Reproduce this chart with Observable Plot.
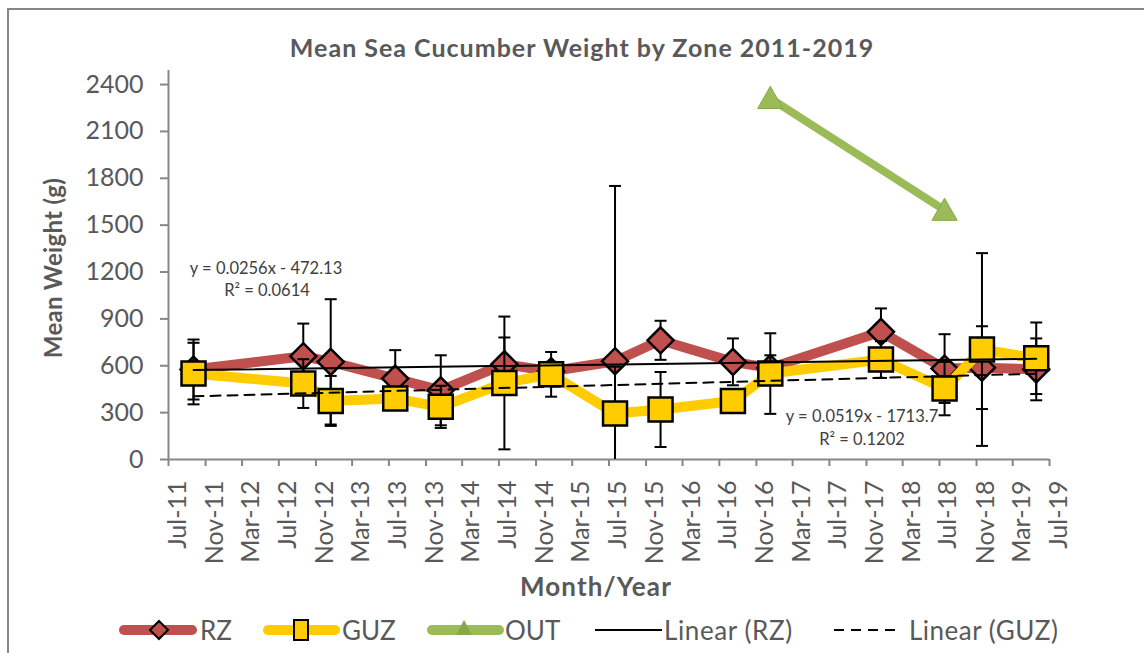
<!DOCTYPE html>
<html>
<head>
<meta charset="utf-8">
<script src="https://cdn.jsdelivr.net/npm/d3@7"></script>
<script src="https://cdn.jsdelivr.net/npm/@observablehq/plot@0.6"></script>
<style>
  html, body { margin: 0; padding: 0; background: #fff; }
  #wrap { position: relative; width: 1144px; height: 653px; overflow: hidden; font-family: Lato, "Open Sans", sans-serif; color: #595959; }
  #border { position: absolute; left: 7px; top: 8px; width: 1170px; height: 720px; border: 2px solid #878787; box-sizing: border-box; }
  #chart { position: absolute; left: 0; top: 0; }
  .lbl { position: absolute; line-height: 1; white-space: nowrap; }
  .ctr { transform: translate(-50%, -50%); }
  .bold { font-weight: bold; }
  .trend { font-size: 16.5px; color: #404040; }
  .leg { position: absolute; line-height: 1; white-space: nowrap; font-size: 26px; transform: translateY(-50%); }
  #legsvg { position: absolute; left: 0; top: 610px; }
</style>
</head>
<body>
<div id="wrap">
  <div id="border"></div>
  <div id="chart"></div>
</div>
<script>
// ---------------- data ----------------
const sampleDates = ["2011-09-22","2012-09-20","2012-12-20","2013-07-22","2013-12-20","2014-07-19","2014-12-21","2015-07-21","2015-12-19","2016-08-15","2016-12-17","2017-12-19","2018-07-18","2018-11-19","2019-05-18"];
const rzMean  = [576, 661, 625, 518, 443, 610, 565, 629, 763, 625, 585, 817, 582, 588, 577];
const rzErr   = [192, 209, 401, 182, 224, 171,  60, 1122, 125, 150,  82, 150, 220, 265, 198];
const guzMean = [550, 486, 375, 390, 337, 490, 545, 294, 320, 375, 550, 640, 454, 704, 648];
const guzErr  = [197, 156, 160,  60, 135, 425, 143, 300, 240,  60, 258, 118, 171, 617, 229];
const outDates = ["2016-12-17","2018-07-18"];
const outMean  = [2312, 1596];
const trendRZ  = {slope: 0.0256, intercept: -472.13, eq: "y = 0.0256x  - 472.13", r2: "R\u00B2 = 0.0614"};
const trendGUZ = {slope: 0.0519, intercept: -1713.7, eq: "y = 0.0519x  - 1713.7", r2: "R\u00B2 = 0.1202"};
const yTicks = [0, 300, 600, 900, 1200, 1500, 1800, 2100, 2400];
const xTickLabels = ["Jul-11","Nov-11","Mar-12","Jul-12","Nov-12","Mar-13","Jul-13","Nov-13","Mar-14","Jul-14","Nov-14","Mar-15","Jul-15","Nov-15","Mar-16","Jul-16","Nov-16","Mar-17","Jul-17","Nov-17","Mar-18","Jul-18","Nov-18","Mar-19","Jul-19"];
const titleText = "Mean Sea Cucumber Weight by Zone 2011-2019";
const yTitle = "Mean Weight (g)";
const xTitle = "Month/Year";
const seriesNames = ["RZ", "GUZ", "OUT", "Linear (RZ)", "Linear (GUZ)"];

// ---------------- styles ----------------
const rzColor = "#C0504D", guzColor = "#FFCC00", outColor = "#9BBB59";
const axisGray = "#878787", textGray = "#595959";

// ---------------- build ----------------
const parseD = d3.utcParse("%Y-%m-%d");
const parseTick = d3.utcParse("%b-%y");
const dates = sampleDates.map(parseD);
const rz = dates.map((d, i) => ({date: d, v: rzMean[i], e: rzErr[i]}));
const guz = dates.map((d, i) => ({date: d, v: guzMean[i], e: guzErr[i]}));
const out = outDates.map((d, i) => ({date: parseD(d), v: outMean[i]}));
const xTicks = xTickLabels.map(parseTick);
const xmin = xTicks[0], xmax = xTicks[xTicks.length - 1];

const excelSerial = d => (d - Date.UTC(1899, 11, 30)) / 864e5;
const trendPts = (series, t) => [series[0], series[series.length - 1]].map(p => ({date: p.date, v: t.slope * excelSerial(p.date) + t.intercept}));
const caps = s => s.flatMap(p => [{date: p.date, v: p.v - p.e}, {date: p.date, v: p.v + p.e}]);

const rOf = size => Math.sqrt(size / Math.PI);
const diamondSym = {draw(c, s) { const r = rOf(s); c.moveTo(0, -r); c.lineTo(r, 0); c.lineTo(0, r); c.lineTo(-r, 0); c.closePath(); }};
const squareSym = {draw(c, s) { const r = rOf(s); c.rect(-r, -r, 2 * r, 2 * r); }};
const triSym = {draw(c, s) { const r = rOf(s); c.moveTo(0, -r); c.lineTo(r * 1.05, r * 0.85); c.lineTo(-r * 1.05, r * 0.85); c.closePath(); }};
const capSym = {draw(c, s) { const r = rOf(s); c.moveTo(-r, 0); c.lineTo(r, 0); }};

const errMarks = (s) => [
  Plot.ruleX(s, {x: "date", y1: d => d.v - d.e, y2: d => d.v + d.e, stroke: "#000", strokeWidth: 2, clip: true}),
  Plot.dot(caps(s), {x: "date", y: "v", symbol: capSym, r: 6, stroke: "#000", strokeWidth: 2, clip: true})
];

const chart = Plot.plot({
  width: 1144, height: 653,
  marginLeft: 168, marginRight: 95, marginTop: 70, marginBottom: 194,
  style: {fontFamily: "Lato, 'Open Sans', sans-serif", background: "transparent", overflow: "visible"},
  x: {type: "utc", domain: [xmin, xmax]},
  y: {domain: [0, 2490]},
  marks: [
    Plot.axisY({ticks: yTicks, tickSize: 8, tickFormat: () => "", stroke: axisGray, strokeWidth: 2, label: null}),
    Plot.axisX({ticks: xTicks, tickSize: 7, tickFormat: () => "", stroke: axisGray, strokeWidth: 2, label: null}),
    Plot.ruleY([0], {stroke: axisGray, strokeWidth: 2}),
    Plot.ruleX([xmin], {stroke: axisGray, strokeWidth: 2}),
    Plot.text(yTicks, {x: () => xmin, y: d => d, text: d => String(d), textAnchor: "end", dx: -25, fontSize: 25, fill: textGray}),
    Plot.text(xTickLabels, {x: d => parseTick(d), y: () => 0, text: d => d, rotate: -90, textAnchor: "end", lineAnchor: "bottom", dx: 17, dy: 21, fontSize: 25, fill: textGray}),
    // RZ
    Plot.line(rz, {x: "date", y: "v", stroke: rzColor, strokeWidth: 10, strokeLinejoin: "round"}),
    ...errMarks(rz),
    Plot.dot(rz, {x: "date", y: "v", symbol: diamondSym, r: 13, fill: rzColor, stroke: "#000", strokeWidth: 2.5, ariaLabel: "marker"}),
    // GUZ
    Plot.line(guz, {x: "date", y: "v", stroke: guzColor, strokeWidth: 10, strokeLinejoin: "round"}),
    ...errMarks(guz),
    Plot.dot(guz, {x: "date", y: "v", symbol: squareSym, r: 12, fill: guzColor, stroke: "#000", strokeWidth: 2.5, ariaLabel: "marker"}),
    // OUT
    Plot.line(out, {x: "date", y: "v", stroke: outColor, strokeWidth: 8}),
    Plot.dot(out, {x: "date", y: "v", symbol: triSym, r: 12, fill: outColor, stroke: "#86A84A", strokeWidth: 1, ariaLabel: "marker"}),
    // trend lines
    Plot.line(trendPts(rz, trendRZ), {x: "date", y: "v", stroke: "#000", strokeWidth: 2}),
    Plot.line(trendPts(guz, trendGUZ), {x: "date", y: "v", stroke: "#000", strokeWidth: 2, strokeDasharray: "10,7"})
  ]
});
document.getElementById("chart").appendChild(chart);
chart.querySelectorAll('g[aria-label="marker"]').forEach(g => g.style.filter = "drop-shadow(1.5px 2px 1.5px rgba(0,0,0,0.35))");

// ---------------- text overlays ----------------
const wrap = document.getElementById("wrap");
function addLabel(text, x, y, cls, extra) {
  const el = document.createElement("div");
  el.className = "lbl " + cls;
  el.textContent = text;
  el.style.left = x + "px"; el.style.top = y + "px";
  if (extra) Object.assign(el.style, extra);
  wrap.appendChild(el);
  return el;
}
addLabel(titleText, 582, 47, "ctr bold", {fontSize: "25px", letterSpacing: "1px"});
addLabel(yTitle, 53, 268, "bold", {fontSize: "24px", letterSpacing: "0.3px", transform: "translate(-50%,-50%) rotate(-90deg)"});
addLabel(xTitle, 596, 586, "ctr bold", {fontSize: "26px", letterSpacing: "1.1px"});
addLabel(trendRZ.eq, 266, 268, "ctr trend");
addLabel(trendRZ.r2, 267, 290, "ctr trend");
addLabel(trendGUZ.eq, 862, 416, "ctr trend");
addLabel(trendGUZ.r2, 862, 439, "ctr trend");

// ---------------- legend ----------------
const legendX = [200, 342, 505, 664, 909];
const legendSpacing = ["0px", "0px", "0px", "0.6px", "0.5px"];
seriesNames.forEach((n, i) => {
  const el = document.createElement("div");
  el.className = "leg"; el.textContent = n;
  el.style.left = legendX[i] + "px"; el.style.top = "630px";
  el.style.letterSpacing = legendSpacing[i];
  wrap.appendChild(el);
});
const ls = d3.create("svg").attr("id", "legsvg").attr("width", 1144).attr("height", 40);
const cy = 20;
ls.append("line").attr("x1", 124).attr("x2", 192).attr("y1", cy).attr("y2", cy).attr("stroke", rzColor).attr("stroke-width", 10).attr("stroke-linecap", "round");
ls.append("path").attr("d", `M159,${cy-9}L168,${cy}L159,${cy+9}L150,${cy}Z`).attr("fill", rzColor).attr("stroke", "#000").attr("stroke-width", 2);
ls.append("line").attr("x1", 268).attr("x2", 335).attr("y1", cy).attr("y2", cy).attr("stroke", guzColor).attr("stroke-width", 10).attr("stroke-linecap", "round");
ls.append("rect").attr("x", 294).attr("y", cy - 10).attr("width", 14).attr("height", 20).attr("fill", guzColor).attr("stroke", "#000").attr("stroke-width", 2);
ls.append("line").attr("x1", 432).attr("x2", 499).attr("y1", cy).attr("y2", cy).attr("stroke", outColor).attr("stroke-width", 10).attr("stroke-linecap", "round");
ls.append("path").attr("d", `M464,${cy-10}L472,${cy+5}L456,${cy+5}Z`).attr("fill", "#86A84A");
ls.append("line").attr("x1", 595).attr("x2", 662).attr("y1", cy).attr("y2", cy).attr("stroke", "#000").attr("stroke-width", 2);
ls.append("line").attr("x1", 834).attr("x2", 900).attr("y1", cy).attr("y2", cy).attr("stroke", "#000").attr("stroke-width", 2).attr("stroke-dasharray", "10,7");
wrap.appendChild(ls.node());
</script>
</body>
</html>
